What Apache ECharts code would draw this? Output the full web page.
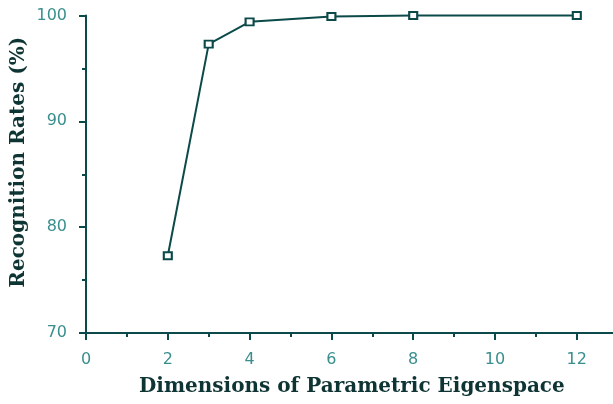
<!DOCTYPE html>
<html><head><meta charset="utf-8">
<script src="https://cdn.jsdelivr.net/npm/echarts@6/dist/echarts.min.js"></script>
<style>html,body{margin:0;padding:0;background:#fff}#c{width:613px;height:404px}</style>
</head><body><div id="c"></div>
<script>
const dims = [2, 3, 4, 6, 8, 12];
const rates = [77.3, 97.3, 99.4, 99.9, 100, 100];
const xTicks = [0, 2, 4, 6, 8, 10, 12];
const yTicks = [70, 80, 90, 100];

const lineColor = '#0c4a4a';
const labelColor = '#3a8e8e';
const titleColor = '#0f3434';

const chart = echarts.init(document.getElementById('c'), null, {renderer: 'canvas'});
chart.setOption({
  animation: false,
  grid: {left: 86, top: 15.5, width: 531.7, height: 317.5, containLabel: false, outerBoundsMode: 'none'},
  xAxis: {
    type: 'value', min: 0, max: 13, interval: 2,
    name: 'Dimensions of Parametric Eigenspace',
    nameLocation: 'middle', nameGap: 44, nameMoveOverlap: false,
    nameTextStyle: {fontFamily: 'DejaVu Serif', fontWeight: 'bold', fontSize: 20, color: titleColor},
    axisLine: {show: true, lineStyle: {color: lineColor, width: 2}},
    axisTick: {show: true, inside: false, length: 7, lineStyle: {color: lineColor, width: 2}},
    minorTick: {show: true, splitNumber: 2, length: 4, lineStyle: {color: lineColor, width: 2}},
    axisLabel: {margin: 19, fontFamily: 'DejaVu Sans', fontSize: 16, color: labelColor,
      showMaxLabel: false,
      formatter: v => xTicks.includes(v) ? String(v) : ''},
    splitLine: {show: false}, minorSplitLine: {show: false}
  },
  yAxis: {
    type: 'value', min: yTicks[0], max: yTicks[yTicks.length - 1], interval: 10,
    name: 'Recognition Rates (%)',
    nameLocation: 'middle', nameGap: 57, nameRotate: 90, nameMoveOverlap: false,
    nameTextStyle: {fontFamily: 'DejaVu Serif', fontWeight: 'bold', fontSize: 20, color: titleColor,
      padding: [0, 0, 0, 24]},
    axisLine: {show: true, lineStyle: {color: lineColor, width: 2}},
    axisTick: {show: true, inside: false, length: 7, lineStyle: {color: lineColor, width: 2}},
    minorTick: {show: true, splitNumber: 2, length: 4, lineStyle: {color: lineColor, width: 2}},
    axisLabel: {margin: 19, fontFamily: 'DejaVu Sans', fontSize: 16, color: labelColor},
    splitLine: {show: false}, minorSplitLine: {show: false}
  },
  series: [{
    type: 'line',
    data: dims.map((d, i) => [d, rates[i]]),
    symbol: 'rect', symbolSize: [8, 7],
    itemStyle: {color: '#ffffff', borderColor: lineColor, borderWidth: 2},
    lineStyle: {color: lineColor, width: 2},
    clip: false
  }]
});
</script></body></html>
